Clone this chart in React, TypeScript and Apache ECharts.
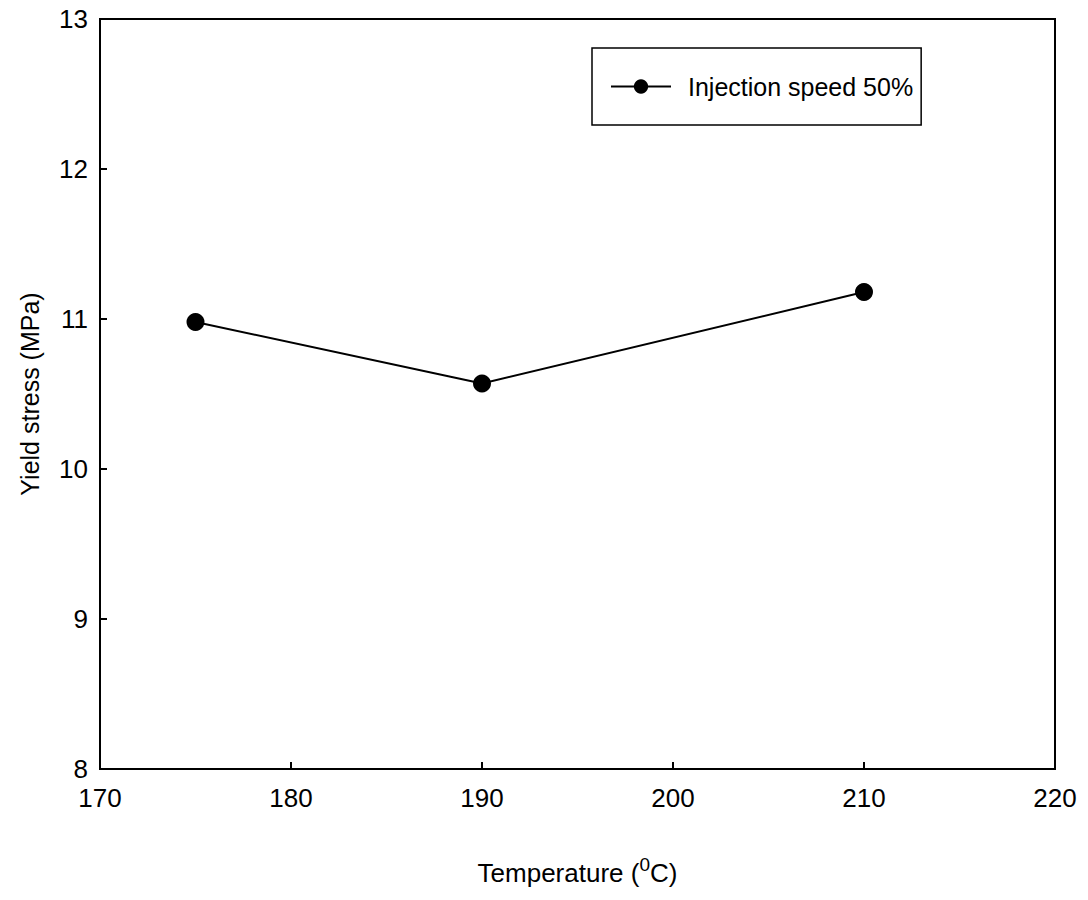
import React, { useEffect, useRef } from "react";
import * as echarts from "echarts";

const temperatures = [175, 190, 210];
const yieldStress = [10.98, 10.57, 11.18];
const seriesName = "Injection speed 50%";
const xTitle = "Temperature (";
const yTitle = "Yield stress (MPa)";

export default function App() {
  const ref = useRef<HTMLDivElement>(null);
  useEffect(() => {
    if (!ref.current) return;
    const chart = echarts.init(ref.current, undefined, { renderer: "svg" });
    const font = "'Liberation Sans', Arial, sans-serif";
    chart.setOption({
      animation: false,
      backgroundColor: "#ffffff",
      textStyle: { fontFamily: font, color: "#000" },
      grid: {
        left: 100,
        right: 33,
        top: 19,
        bottom: 131,
        show: true,
        borderColor: "#000",
        borderWidth: 2,
        backgroundColor: "transparent",
      },
      legend: {
        left: 592,
        top: 48,
        orient: "horizontal",
        data: [seriesName],
        itemWidth: 60,
        itemHeight: 18,
        itemGap: 10,
        borderColor: "#000",
        borderWidth: 1.5,
        borderRadius: 0,
        padding: [26, 8, 26, 18],
        textStyle: { fontSize: 25, color: "#000", fontFamily: font, padding: [0, 0, 0, 12] },
      },
      xAxis: {
        type: "value",
        min: 170,
        max: 220,
        interval: 10,
        name: xTitle + "{sup|0}C)",
        nameLocation: "middle",
        nameGap: 86,
        nameTextStyle: {
          fontSize: 26,
          color: "#000",
          fontFamily: font,
          rich: {
            sup: { fontSize: 19, verticalAlign: "bottom", padding: [0, 0, 16, 0], fontFamily: font, color: "#000" },
          },
        },
        axisLine: { show: true, lineStyle: { color: "#000", width: 2 } },
        axisTick: { show: true, inside: true, length: 7, lineStyle: { color: "#000", width: 2 } },
        axisLabel: { fontSize: 26, color: "#000", margin: 16, fontFamily: font },
        splitLine: { show: false },
      },
      yAxis: {
        type: "value",
        min: 8,
        max: 13,
        interval: 1,
        name: yTitle,
        nameLocation: "middle",
        nameGap: 58,
        nameTextStyle: { fontSize: 25, color: "#000", fontFamily: font },
        axisLine: { show: true, lineStyle: { color: "#000", width: 2 } },
        axisTick: { show: true, inside: true, length: 7, lineStyle: { color: "#000", width: 2 } },
        axisLabel: { fontSize: 26, color: "#000", margin: 12, fontFamily: font },
        splitLine: { show: false },
      },
      series: [
        {
          name: seriesName,
          type: "line",
          data: temperatures.map((t, i) => [t, yieldStress[i]]),
          symbol: "circle",
          symbolSize: 18,
          itemStyle: { color: "#000" },
          lineStyle: { color: "#000", width: 2 },
        },
      ],
    });
    return () => chart.dispose();
  }, []);
  return (
    <div
      ref={ref}
      style={{ position: "absolute", left: 0, top: 0, width: 1088, height: 900 }}
    />
  );
}
